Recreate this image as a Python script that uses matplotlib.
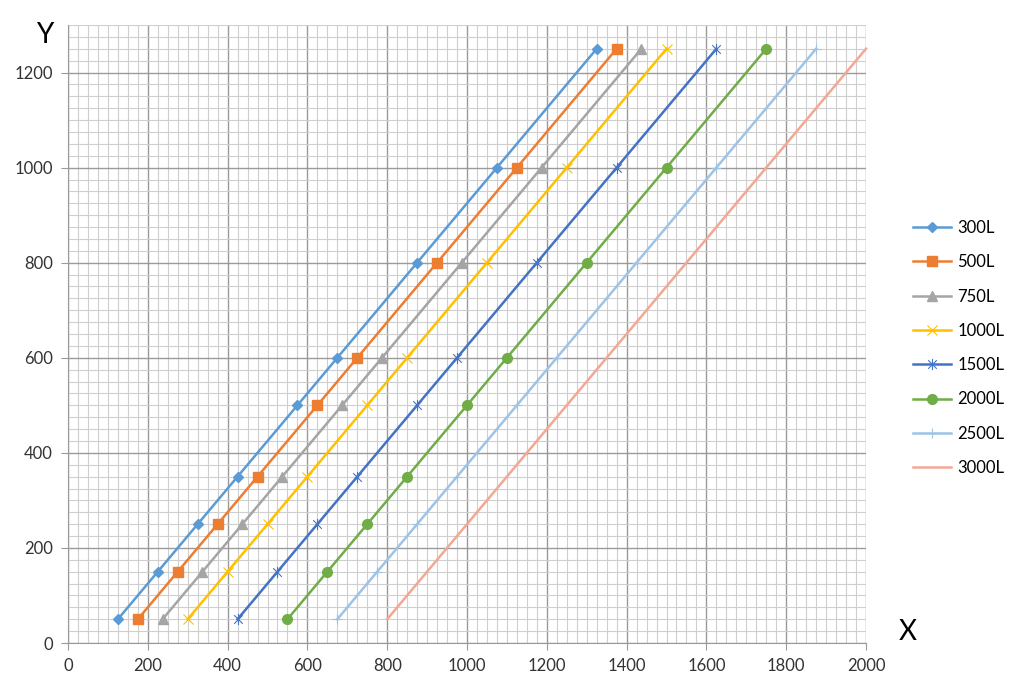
import numpy as np
import matplotlib
matplotlib.use("Agg")
import matplotlib.pyplot as plt
from matplotlib.path import Path

plt.rcParams['font.family'] = ['Lato', 'DejaVu Sans']

y = [50, 150, 250, 350, 500, 600, 800, 1000, 1250]

x_300 = [125, 225, 325, 425, 575, 675, 875, 1075, 1325]
x_500 = [175, 275, 375, 475, 625, 725, 925, 1125, 1375]
x_750 = [237, 337, 437, 537, 687, 787, 987, 1187, 1437]
x_1000 = [300, 400, 500, 600, 750, 850, 1050, 1250, 1500]
x_1500 = [425, 525, 625, 725, 875, 975, 1175, 1375, 1625]
x_2000 = [550, 650, 750, 850, 1000, 1100, 1300, 1500, 1750]
x_2500 = [675, 775, 875, 975, 1125, 1225, 1425, 1625, 1875]
x_3000 = [800, 900, 1000, 1100, 1250, 1350, 1550, 1750, 2000]

labels = ['300L', '500L', '750L', '1000L', '1500L', '2000L', '2500L', '3000L']
colors = ['#5B9BD5', '#ED7D31', '#A5A5A5', '#FFC000', '#4472C4', '#70AD47', '#9DC3E6', '#F4A792']

# excel style star: x plus vertical line
star = Path([(-1, -1), (1, 1), (-1, 1), (1, -1), (0, -1.3), (0, 1.3)],
            [Path.MOVETO, Path.LINETO, Path.MOVETO, Path.LINETO, Path.MOVETO, Path.LINETO])

markers = ['D', 's', '^', 'x', star, 'o', '+', None]
msizes = [5, 7, 7, 7, 8, 7, 7, 0]
medges = [1.0, 1.0, 1.0, 0.8, 0.8, 1.0, 0.8, 1.0]

fig = plt.figure(figsize=(10.24, 6.92), dpi=100)
ax = fig.add_axes([68/1024, 49/692, 798/1024, 618/692])

series = [x_300, x_500, x_750, x_1000, x_1500, x_2000, x_2500, x_3000]
for xs, lab, c, m, ms, me in zip(series, labels, colors, markers, msizes, medges):
    ax.plot(xs, y, color=c, lw=1.8, marker=m, markersize=ms, markeredgewidth=me,
            label=lab, clip_on=False, zorder=3)

ax.set_xlim(0, 2000)
ax.set_ylim(0, 1300)
ax.set_xticks(np.arange(0, 2001, 200))
ax.set_yticks(np.arange(0, 1201, 200))
ax.set_xticks(np.arange(0, 2001, 25), minor=True)
ax.set_yticks(np.arange(0, 1301, 25), minor=True)
ax.grid(which='major', color='#9a9a9a', lw=1.0, zorder=1)
ax.grid(which='minor', color='#cfcfcf', lw=0.8, zorder=0)
ax.tick_params(which='minor', length=0)
ax.tick_params(which='major', length=5, color='#9a9a9a', labelsize=12,
               labelcolor='#333333', pad=6)
for s in ['top', 'right']:
    ax.spines[s].set_visible(False)
for s in ['left', 'bottom']:
    ax.spines[s].set_color('#9a9a9a')

fig.text(45/1024, 1 - 35/692, 'Y', fontsize=20, ha='center', va='center')
fig.text(908/1024, 1 - 632/692, 'X', fontsize=20, ha='center', va='center')

ax.legend(loc='center left', bbox_to_anchor=(913/1024, 1 - 348/692),
          bbox_transform=fig.transFigure, frameon=False, borderpad=0, borderaxespad=0,
          fontsize=12, handlelength=2.3, labelspacing=1.1, handletextpad=0.35)

fig.savefig('out.png', dpi=100)
